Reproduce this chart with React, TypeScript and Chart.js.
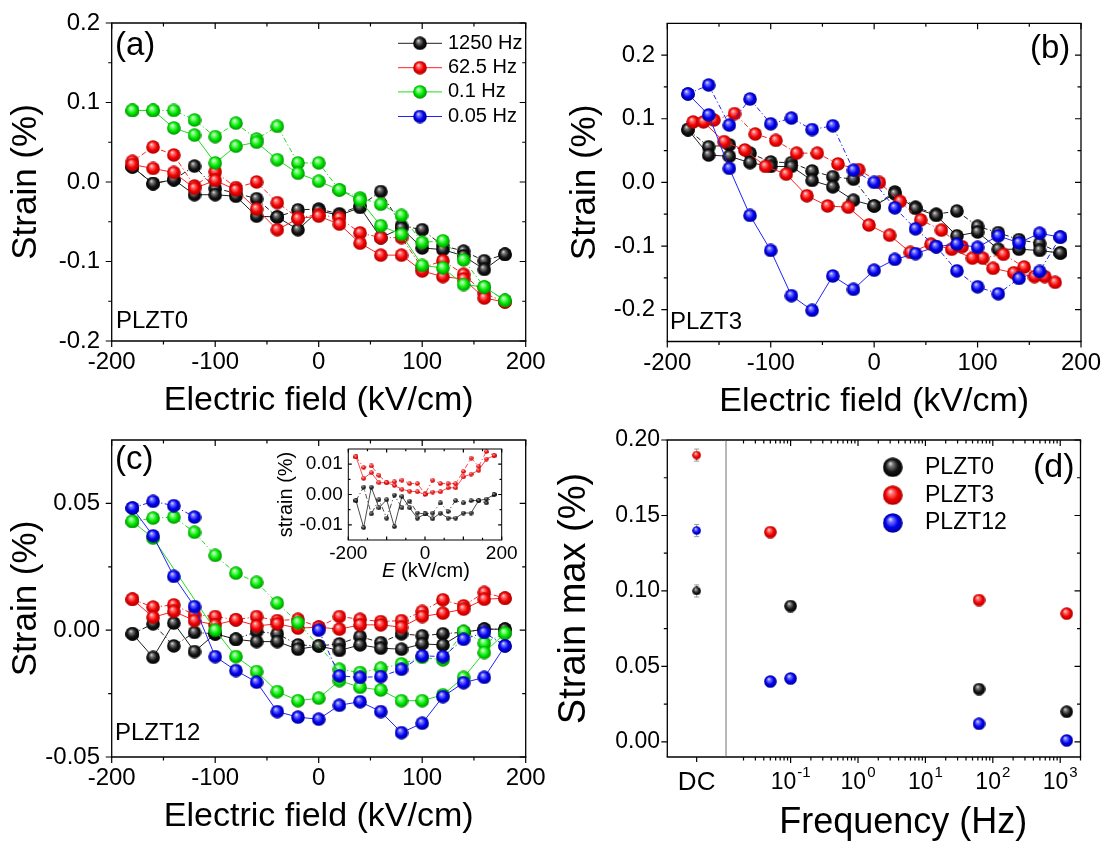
import React, { useEffect, useRef } from 'react';
import { Chart, registerables } from 'chart.js';

Chart.register(...registerables);

const FONT = '"Liberation Sans", Arial, Helvetica, sans-serif';

/* ================= data ================= */
// electric field grid (kV/cm)
const fieldKV = [-180, -160, -140, -120, -100, -80, -60, -40, -20, 0, 20, 40, 60, 80, 100, 120, 140, 160, 180];

// (a) PLZT0 — strain (%) on the two branches of each loop, listed by field
const a1250Up = [0.019, -0.002, 0.003, 0.020, -0.008, -0.014, -0.021, -0.044, -0.035, -0.034, -0.040, -0.030, -0.012, -0.055, -0.060, -0.080, -0.087, -0.099, -0.091];
const a1250Down = [0.019, -0.002, 0.003, -0.016, -0.016, -0.018, -0.043, -0.044, -0.060, -0.036, -0.042, -0.032, -0.070, -0.058, -0.083, -0.085, -0.093, -0.110, -0.091];
const a625Up = [0.026, 0.044, 0.034, -0.005, 0.013, -0.007, 0.000, -0.026, -0.045, -0.041, -0.045, -0.064, -0.070, -0.070, -0.108, -0.099, -0.116, -0.140, -0.151];
const a625Down = [0.022, 0.017, 0.012, -0.008, 0.002, -0.010, -0.034, -0.060, -0.046, -0.043, -0.053, -0.077, -0.092, -0.092, -0.112, -0.119, -0.122, -0.146, -0.151];
const a01Up = [0.090, 0.090, 0.090, 0.078, 0.057, 0.074, 0.054, 0.070, 0.024, 0.024, -0.010, -0.020, -0.028, -0.042, -0.076, -0.074, -0.098, -0.132, -0.149];
const a01Down = [0.090, 0.090, 0.068, 0.059, 0.024, 0.045, 0.050, 0.028, 0.011, 0.001, -0.010, -0.023, -0.055, -0.066, -0.105, -0.108, -0.129, -0.132, -0.149];

// (b) PLZT3
const b1250Up = [0.083, 0.056, 0.059, 0.046, 0.032, 0.031, 0.018, 0.009, 0.005, -0.037, -0.015, -0.039, -0.050, -0.045, -0.069, -0.079, -0.090, -0.096, -0.111];
const b1250Down = [0.083, 0.043, 0.041, 0.031, 0.025, 0.025, 0.003, -0.007, -0.028, -0.037, -0.018, -0.041, -0.052, -0.084, -0.078, -0.105, -0.105, -0.107, -0.111];
const b625UpField = [-175, -155, -135, -115, -95, -75, -55, -35, -15, 5, 25, 45, 65, 85, 105, 125, 145, 165];
const b625Up = [0.095, 0.098, 0.108, 0.076, 0.066, 0.046, 0.046, 0.029, 0.020, 0.000, -0.030, -0.059, -0.075, -0.101, -0.119, -0.113, -0.133, -0.148];
const b625DownField = [-165, -145, -125, -105, -85, -65, -45, -25, -5, 15, 35, 55, 75, 95, 115, 135, 155, 175];
const b625Down = [0.095, 0.064, 0.051, 0.025, 0.013, -0.021, -0.037, -0.039, -0.067, -0.083, -0.110, -0.097, -0.105, -0.119, -0.135, -0.142, -0.148, -0.157];
const b005Up = [0.139, 0.153, 0.090, 0.131, 0.092, 0.101, 0.083, 0.089, 0.019, 0.000, -0.040, -0.073, -0.101, -0.139, -0.164, -0.175, -0.151, -0.140, -0.086];
const b005Down = [0.139, 0.106, 0.022, -0.052, -0.107, -0.178, -0.201, -0.147, -0.168, -0.138, -0.121, -0.112, -0.101, -0.097, -0.102, -0.084, -0.095, -0.080, -0.086];

// (c) PLZT12
const c1250Up = [-0.0014, 0.0025, -0.0062, -0.0009, -0.0014, -0.0036, -0.0005, -0.0014, -0.0058, -0.0062, -0.0054, -0.0025, -0.0049, -0.0014, -0.0022, -0.0014, -0.0008, 0.0004, 0.0004];
const c1250Down = [-0.0014, -0.0107, 0.0028, -0.0084, -0.0014, -0.0036, -0.0045, -0.0045, -0.0075, -0.0062, -0.0080, -0.0058, -0.0071, -0.0075, -0.0054, -0.0058, -0.0008, 0.0004, 0.0004];
const c625Up = [0.0122, 0.0091, 0.0100, 0.0061, 0.0054, 0.0041, 0.0054, 0.0038, 0.0043, 0.0012, 0.0054, 0.0043, 0.0034, 0.0038, 0.0074, 0.0120, 0.0096, 0.0149, 0.0126];
const c625Down = [0.0122, 0.0051, 0.0074, 0.0038, 0.0021, 0.0041, 0.0017, 0.0025, 0.0008, 0.0012, 0.0004, 0.0021, 0.0021, 0.0012, 0.0054, 0.0067, 0.0083, 0.0122, 0.0126];
const c01Up = [0.0429, 0.0442, 0.0446, 0.0386, 0.0295, 0.0225, 0.0189, 0.0107, 0.0030, null, -0.0154, -0.0167, -0.0150, -0.0133, -0.0107, -0.0117, -0.0005, -0.0051, -0.0012];
const c01Down = [0.0429, 0.0363, null, null, 0.0000, -0.0104, -0.0163, -0.0242, -0.0278, -0.0268, -0.0199, -0.0225, -0.0236, -0.0278, -0.0278, -0.0255, -0.0186, -0.0088, -0.0012];
const c005Up = [0.0482, 0.0508, 0.0491, 0.0446, null, null, null, null, null, 0.0000, -0.0180, -0.0186, -0.0183, -0.0154, -0.0101, -0.0104, -0.0036, -0.0009, -0.0062];
const c005Down = [0.0482, 0.0372, 0.0212, 0.0093, -0.0104, -0.0159, -0.0205, -0.0321, -0.0343, -0.0351, -0.0296, -0.0282, -0.0321, -0.0404, -0.0367, -0.0262, -0.0207, -0.0186, -0.0062];

// (c) inset
const in1250Up = [-0.0020, 0.0024, -0.0064, -0.0017, -0.0078, -0.0002, -0.0044, -0.0022, -0.0061, -0.0064, -0.0061, -0.0028, -0.0056, -0.0020, -0.0028, -0.0020, -0.0020, -0.0028, 0.0000];
const in1250Down = [-0.0020, -0.0109, 0.0024, -0.0044, -0.0017, -0.0106, -0.0006, -0.0044, -0.0078, -0.0064, -0.0080, -0.0061, -0.0078, -0.0078, -0.0061, -0.0061, -0.0020, -0.0015, 0.0000];
const in625Up = [0.0124, 0.0089, 0.0094, 0.0063, 0.0039, 0.0042, 0.0047, 0.0036, 0.0036, 0.0002, 0.0047, 0.0036, 0.0036, 0.0036, 0.0076, 0.0120, 0.0093, 0.0142, 0.0128];
const in625Down = [0.0124, 0.0053, 0.0072, 0.0039, 0.0039, 0.0030, 0.0017, 0.0011, 0.0009, 0.0000, 0.0008, 0.0009, 0.0022, 0.0022, 0.0058, 0.0067, 0.0080, 0.0117, 0.0128];

// (d) maximum strain vs frequency
const freqHz = [0.05, 0.1, 62.5, 1250];
const dPLZT0 = [null, 0.090, 0.035, 0.020];
const dPLZT3 = [0.139, null, 0.094, 0.085];
const dPLZT12 = [0.040, 0.042, 0.012, 0.001];
const dcLabels = ['DC'];
const dcPLZT0 = [0.100];
const dcPLZT3 = [0.190];
const dcPLZT12 = [0.140];
const dcErr = 0.004;
const acErr = 0.003;

// legends / names
const freqNames = ['1250 Hz', '62.5 Hz', '0.1 Hz', '0.05 Hz'];
const sampleNames = ['PLZT0', 'PLZT3', 'PLZT12'];

// ticks
const fieldTicks = [-200, -100, 0, 100, 200];
const fieldMinor = [-150, -50, 50, 150];
const insetFieldLabels = [-200, 0, 200];
const insetFieldMajor = [-200, -100, 0, 100, 200];
const strainTicksAB = [-0.2, -0.1, 0, 0.1, 0.2];
const strainMinorAB = [-0.15, -0.05, 0.05, 0.15];
const strainTicksC = [-0.05, 0, 0.05];
const strainMinorC = [-0.025, 0.025];
const insetTicks = [-0.01, 0, 0.01];
const insetMinor = [-0.005, 0.005];
const strainTicksD = [0, 0.05, 0.1, 0.15, 0.2];
const strainMinorD = [0.025, 0.075, 0.125, 0.175];
const logMajor = [0.1, 1, 10, 100, 1000];

/* ================= layout ================= */
type Box = { left: number; top: number; w: number; h: number; area: { l: number; t: number; r: number; b: number } };
const BOX_A: Box = { left: 0, top: 0, w: 560, h: 425, area: { l: 111.7, t: 23, r: 525.7, b: 341 } };
const BOX_B: Box = { left: 550, top: 0, w: 553, h: 425, area: { l: 667.3, t: 23.3, r: 1081, b: 341.5 } };
const BOX_C: Box = { left: 0, top: 420, w: 560, h: 426, area: { l: 111.7, t: 440, r: 525.7, b: 757 } };
const BOX_IN: Box = { left: 270, top: 430, w: 255, h: 160, area: { l: 348.3, t: 449, r: 501.7, b: 540 } };
const BOX_DC: Box = { left: 550, top: 420, w: 176, h: 426, area: { l: 667.3, t: 440, r: 726, b: 757 } };
const BOX_LOG: Box = { left: 726, top: 420, w: 377, h: 426, area: { l: 726, t: 440, r: 1080.5, b: 757 } };
const BOXES = [BOX_A, BOX_B, BOX_C, BOX_IN, BOX_DC, BOX_LOG];

const LINE: Record<string, string> = { black: '#1e1e1e', red: '#ff2020', green: '#20dd20', blue: '#2020ff' };
const SPH: Record<string, string[]> = {
  black: ['#f4f4f4', '#808080', '#151515', '#000000'],
  red: ['#fff2f2', '#ff7a7a', '#f20000', '#a80000'],
  green: ['#f2fff2', '#8aff8a', '#00e600', '#008c00'],
  blue: ['#f2f2ff', '#7a7aff', '#0000f0', '#000090'],
};

function sphere(key: string, d: number): HTMLCanvasElement {
  const c = document.createElement('canvas');
  c.width = d;
  c.height = d;
  const g = c.getContext('2d')!;
  const r = d / 2;
  const s = SPH[key];
  const grad = g.createRadialGradient(d * 0.37, d * 0.3, 0, r, r, r);
  grad.addColorStop(0, s[0]);
  grad.addColorStop(0.22, s[1]);
  grad.addColorStop(0.62, s[2]);
  grad.addColorStop(1, s[3]);
  g.fillStyle = grad;
  g.beginPath();
  g.arc(r, r, r - 0.2, 0, Math.PI * 2);
  g.fill();
  return c;
}

function fitter(box: Box) {
  const yW = box.area.l - box.left;
  const xH = box.top + box.h - box.area.b;
  const zero = (s: any) => {
    s.paddingTop = 0;
    s.paddingBottom = 0;
    s.paddingLeft = 0;
    s.paddingRight = 0;
  };
  return {
    padding: { left: 0, top: box.area.t - box.top, right: box.left + box.w - box.area.r, bottom: 0 },
    fitY: (s: any) => {
      s.width = yW;
      zero(s);
    },
    fitX: (s: any) => {
      s.height = xH;
      zero(s);
    },
  };
}

function linScale(min: number, max: number, ticks: number[] | null, fmt: (v: number) => string, size: number, pad: number, title?: { text: string; size: number; pad: number; side: 'x' | 'y' }) {
  return {
    type: 'linear',
    min,
    max,
    display: true,
    afterBuildTicks: (s: any) => {
      s.ticks = (ticks || []).map((v) => ({ value: v }));
    },
    ticks: { display: !!ticks, callback: (v: any) => fmt(Number(v)), font: { family: FONT, size, lineHeight: 1.2 }, color: '#000', padding: pad, autoSkip: false, maxRotation: 0, minRotation: 0 },
    grid: { display: false, drawTicks: false },
    border: { display: false },
    title: title
      ? { display: true, text: title.text, color: '#000', font: { family: FONT, size: title.size, lineHeight: 1.2 }, padding: title.side === 'y' ? { top: title.pad, bottom: 0 } : { top: 0, bottom: title.pad } }
      : { display: false },
  };
}

type TickSet = { axis: 'x' | 'y'; side: 'left' | 'right' | 'top' | 'bottom'; out: boolean; len: number; vals: number[] };

function framePlugin(sides: string[], ticks: TickSet[], lw = 1.3, sepColor?: string, sepSide?: string) {
  return {
    id: 'frame',
    afterDraw(chart: any) {
      const { ctx, chartArea: a, scales } = chart;
      ctx.save();
      ctx.lineWidth = lw;
      for (const s of sides) {
        ctx.strokeStyle = s === sepSide && sepColor ? sepColor : '#000';
        ctx.lineWidth = s === sepSide && sepColor ? 1 : lw;
        ctx.beginPath();
        if (s === 'left') { ctx.moveTo(a.left, a.top); ctx.lineTo(a.left, a.bottom); }
        if (s === 'right') { ctx.moveTo(a.right, a.top); ctx.lineTo(a.right, a.bottom); }
        if (s === 'top') { ctx.moveTo(a.left - lw / 2, a.top); ctx.lineTo(a.right + lw / 2, a.top); }
        if (s === 'bottom') { ctx.moveTo(a.left - lw / 2, a.bottom); ctx.lineTo(a.right + lw / 2, a.bottom); }
        ctx.stroke();
      }
      ctx.strokeStyle = '#000';
      ctx.lineWidth = 1.2;
      ctx.beginPath();
      for (const t of ticks) {
        const sc = scales[t.axis];
        for (const v of t.vals) {
          const p = sc.getPixelForValue(v);
          if (t.axis === 'x') {
            if (p < a.left - 0.6 || p > a.right + 0.6) continue;
            const y0 = t.side === 'bottom' ? a.bottom : a.top;
            const dir = (t.side === 'bottom') === t.out ? 1 : -1;
            ctx.moveTo(p, y0);
            ctx.lineTo(p, y0 + dir * t.len);
          } else {
            if (p < a.top - 0.6 || p > a.bottom + 0.6) continue;
            const x0 = t.side === 'left' ? a.left : a.right;
            const dir = (t.side === 'left') === t.out ? -1 : 1;
            ctx.moveTo(x0, p);
            ctx.lineTo(x0 + dir * t.len, p);
          }
        }
      }
      ctx.stroke();
      ctx.restore();
    },
  };
}

function stdTicks(xMaj: number[], xMin: number[], yMaj: number[], yMin: number[], inset = false): TickSet[] {
  const M = inset ? 3.5 : 6;
  const m = inset ? 2.2 : 3.5;
  const out = !inset;
  return [
    { axis: 'x', side: 'bottom', out, len: M, vals: xMaj },
    { axis: 'x', side: 'bottom', out, len: m, vals: xMin },
    { axis: 'x', side: 'top', out: false, len: M, vals: xMaj },
    { axis: 'x', side: 'top', out: false, len: m, vals: xMin },
    { axis: 'y', side: 'left', out, len: M, vals: yMaj },
    { axis: 'y', side: 'left', out, len: m, vals: yMin },
    { axis: 'y', side: 'right', out: false, len: M, vals: yMaj },
    { axis: 'y', side: 'right', out: false, len: m, vals: yMin },
  ];
}

type TextItem = { parts: { text: string; italic?: boolean }[]; x: number; y: number; size: number; align?: 'left' | 'center' };
function textPlugin(box: Box, items: TextItem[]) {
  return {
    id: 'texts',
    afterDraw(chart: any) {
      const ctx = chart.ctx;
      ctx.save();
      ctx.fillStyle = '#000';
      ctx.textBaseline = 'middle';
      ctx.textAlign = 'left';
      for (const it of items) {
        const widths = it.parts.map((p) => {
          ctx.font = `${p.italic ? 'italic ' : ''}${it.size}px ${FONT}`;
          return ctx.measureText(p.text).width;
        });
        const total = widths.reduce((s, w) => s + w, 0);
        let x = (it.align === 'center' ? it.x - total / 2 : it.x) - box.left;
        it.parts.forEach((p, i) => {
          ctx.font = `${p.italic ? 'italic ' : ''}${it.size}px ${FONT}`;
          ctx.fillText(p.text, x, it.y - box.top);
          x += widths[i];
        });
      }
      ctx.restore();
    },
  };
}

function legendPlugin(box: Box, entries: { label: string; color: string; img: HTMLCanvasElement }[], rows: number[], markerX: number, textX: number, size: number, line?: [number, number]) {
  return {
    id: 'customLegend',
    afterDraw(chart: any) {
      const ctx = chart.ctx;
      ctx.save();
      entries.forEach((e, i) => {
        const y = rows[i] - box.top;
        if (line) {
          ctx.strokeStyle = LINE[e.color];
          ctx.lineWidth = 1;
          ctx.beginPath();
          ctx.moveTo(line[0] - box.left, y);
          ctx.lineTo(line[1] - box.left, y);
          ctx.stroke();
        }
        ctx.drawImage(e.img, markerX - box.left - e.img.width / 2, y - e.img.height / 2);
        ctx.font = `${size}px ${FONT}`;
        ctx.fillStyle = '#000';
        ctx.textAlign = 'left';
        ctx.textBaseline = 'middle';
        ctx.fillText(e.label, textX - box.left, y);
      });
      ctx.restore();
    },
  };
}

function errorBarPlugin(errs: number[]) {
  return {
    id: 'errorBars',
    beforeDatasetsDraw(chart: any) {
      const ctx = chart.ctx;
      const ys = chart.scales.y;
      ctx.save();
      ctx.strokeStyle = '#9a9a9a';
      ctx.lineWidth = 1;
      chart.data.datasets.forEach((ds: any, i: number) => {
        const meta = chart.getDatasetMeta(i);
        meta.data.forEach((pt: any, j: number) => {
          const raw = ds.data[j];
          const v = typeof raw === 'number' ? raw : raw && raw.y;
          if (v === null || v === undefined || pt.skip) return;
          const y0 = ys.getPixelForValue(v - errs[i]);
          const y1 = ys.getPixelForValue(v + errs[i]);
          ctx.beginPath();
          ctx.moveTo(pt.x, y0);
          ctx.lineTo(pt.x, y1);
          ctx.moveTo(pt.x - 2.5, y0);
          ctx.lineTo(pt.x + 2.5, y0);
          ctx.moveTo(pt.x - 2.5, y1);
          ctx.lineTo(pt.x + 2.5, y1);
          ctx.stroke();
        });
      });
      ctx.restore();
    },
  };
}

function logLabelPlugin(box: Box, values: number[], yPage: number) {
  return {
    id: 'logLabels',
    afterDraw(chart: any) {
      const ctx = chart.ctx;
      const sc = chart.scales.x;
      ctx.save();
      ctx.fillStyle = '#000';
      ctx.textBaseline = 'middle';
      ctx.textAlign = 'left';
      for (const v of values) {
        const px = sc.getPixelForValue(v);
        const e = String(Math.round(Math.log10(v)));
        ctx.font = `23px ${FONT}`;
        const wb = ctx.measureText('10').width;
        ctx.font = `15px ${FONT}`;
        const we = ctx.measureText(e).width;
        const x0 = px - (wb + we + 1) / 2;
        ctx.font = `23px ${FONT}`;
        ctx.fillText('10', x0, yPage - box.top);
        ctx.font = `15px ${FONT}`;
        ctx.fillText(e, x0 + wb + 1, yPage - box.top - 10);
      }
      ctx.restore();
    },
  };
}

function loopDS(label: string, color: string, xUp: number[], yUp: (number | null)[], xDown: number[], yDown: (number | null)[], img: HTMLCanvasElement, order: number, spanGaps = true, lw = 1) {
  const up = xUp.map((x, i) => ({ x, y: yUp[i] }));
  const down = xDown.map((x, i) => ({ x, y: yDown[i] })).reverse();
  const n = up.length;
  return {
    label,
    data: [...up, ...down],
    order,
    spanGaps,
    borderColor: LINE[color],
    borderWidth: lw,
    pointStyle: img,
    pointRadius: img.width / 2,
    pointBorderWidth: 0,
    tension: 0,
    fill: false,
    segment: { borderDash: (ctx: any) => (ctx.p0DataIndex < n - 1 ? [5, 2.5, 1.2, 2.5] : undefined) },
  };
}

function baseConfig(box: Box, x: any, y: any, data: any, plugins: any[]) {
  const f = fitter(box);
  return {
    type: 'line',
    data,
    options: {
      animation: false,
      responsive: false,
      devicePixelRatio: 1,
      events: [],
      layout: { padding: f.padding, autoPadding: false },
      plugins: { legend: { display: false }, tooltip: { enabled: false } },
      scales: { x: { ...x, afterFit: f.fitX }, y: { ...y, afterFit: f.fitY } },
    },
    plugins,
  } as any;
}

const f1 = (v: number) => v.toFixed(1);
const f2 = (v: number) => v.toFixed(2);
const fi = (v: number) => String(Math.round(v));

export default function App() {
  const refs = useRef<(HTMLCanvasElement | null)[]>([]);

  useEffect(() => {
    document.body.style.margin = '0';
    const s14 = { black: sphere('black', 14), red: sphere('red', 14), green: sphere('green', 14), blue: sphere('blue', 14) };
    const s5 = { black: sphere('black', 5), red: sphere('red', 5) };
    const s13 = { black: sphere('black', 13), red: sphere('red', 13), blue: sphere('blue', 13) };
    const s9 = { black: sphere('black', 9), red: sphere('red', 9), blue: sphere('blue', 9) };
    const s20 = { black: sphere('black', 20), red: sphere('red', 20), blue: sphere('blue', 20) };

    const fieldTitle = { text: 'Electric field (kV/cm)', size: 34, side: 'x' as const };
    const strainTitle = { text: 'Strain (%)', size: 35, side: 'y' as const };
    const charts: Chart[] = [];

    // ---------- (a) ----------
    charts.push(
      new Chart(
        refs.current[0]!,
        baseConfig(
          BOX_A,
          linScale(-200, 200, fieldTicks, fi, 24, 7, { ...fieldTitle, pad: 3.6 }),
          linScale(-0.2, 0.2, strainTicksAB, f1, 24, 11.7, { ...strainTitle, pad: 5.7 }),
          {
            datasets: [
              loopDS(freqNames[0], 'black', fieldKV, a1250Up, fieldKV, a1250Down, s14.black, 4),
              loopDS(freqNames[1], 'red', fieldKV, a625Up, fieldKV, a625Down, s14.red, 3),
              loopDS(freqNames[2], 'green', fieldKV, a01Up, fieldKV, a01Down, s14.green, 2),
            ],
          },
          [
            framePlugin(['left', 'right', 'top', 'bottom'], stdTicks(fieldTicks, fieldMinor, strainTicksAB, strainMinorAB)),
            textPlugin(BOX_A, [
              { parts: [{ text: '(a)' }], x: 115, y: 46, size: 33 },
              { parts: [{ text: sampleNames[0] }], x: 116, y: 321.5, size: 24 },
            ]),
            legendPlugin(
              BOX_A,
              [
                { label: freqNames[0], color: 'black', img: s14.black },
                { label: freqNames[1], color: 'red', img: s14.red },
                { label: freqNames[2], color: 'green', img: s14.green },
                { label: freqNames[3], color: 'blue', img: s14.blue },
              ],
              [43.3, 67.7, 91.9, 116.5],
              420,
              448,
              20,
              [398, 442]
            ),
          ]
        )
      )
    );

    // ---------- (b) ----------
    charts.push(
      new Chart(
        refs.current[1]!,
        baseConfig(
          BOX_B,
          linScale(-200, 200, fieldTicks, fi, 24, 7, { ...fieldTitle, pad: 3.1 }),
          linScale(-0.25, 0.25, strainTicksAB, f1, 24, 12.3, { ...strainTitle, pad: 14 }),
          {
            datasets: [
              loopDS(freqNames[0], 'black', fieldKV, b1250Up, fieldKV, b1250Down, s14.black, 4),
              loopDS(freqNames[1], 'red', b625UpField, b625Up, b625DownField, b625Down, s14.red, 3),
              loopDS(freqNames[3], 'blue', fieldKV, b005Up, fieldKV, b005Down, s14.blue, 1),
            ],
          },
          [
            framePlugin(['left', 'right', 'top', 'bottom'], stdTicks(fieldTicks, fieldMinor, strainTicksAB, strainMinorAB)),
            textPlugin(BOX_B, [
              { parts: [{ text: '(b)' }], x: 1030, y: 49, size: 33 },
              { parts: [{ text: sampleNames[1] }], x: 670, y: 322, size: 24 },
            ]),
          ]
        )
      )
    );

    // ---------- (c) ----------
    charts.push(
      new Chart(
        refs.current[2]!,
        baseConfig(
          BOX_C,
          linScale(-200, 200, fieldTicks, fi, 24, 7, { ...fieldTitle, pad: 8.6 }),
          linScale(-0.05, 0.075, strainTicksC, f2, 24, 11.7, { ...strainTitle, pad: 5.7 }),
          {
            datasets: [
              loopDS(freqNames[0], 'black', fieldKV, c1250Up, fieldKV, c1250Down, s14.black, 4),
              loopDS(freqNames[1], 'red', fieldKV, c625Up, fieldKV, c625Down, s14.red, 3),
              loopDS(freqNames[2], 'green', fieldKV, c01Up, fieldKV, c01Down, s14.green, 2, true),
              loopDS(freqNames[3], 'blue', fieldKV, c005Up, fieldKV, c005Down, s14.blue, 1, false),
            ],
          },
          [
            framePlugin(['left', 'right', 'top', 'bottom'], stdTicks(fieldTicks, fieldMinor, strainTicksC, strainMinorC)),
            textPlugin(BOX_C, [
              { parts: [{ text: '(c)' }], x: 115, y: 460, size: 33 },
              { parts: [{ text: sampleNames[2] }], x: 115, y: 733, size: 24 },
            ]),
          ]
        )
      )
    );

    // ---------- inset ----------
    charts.push(
      new Chart(
        refs.current[3]!,
        baseConfig(
          BOX_IN,
          linScale(-200, 200, insetFieldLabels, fi, 19, 1.9),
          linScale(-0.015, 0.015, insetTicks, f2, 19, 5.6, { text: 'strain (%)', size: 20, side: 'y', pad: 4.7 }),
          {
            datasets: [
              loopDS(freqNames[0], 'black', fieldKV, in1250Up, fieldKV, in1250Down, s5.black, 2, true, 0.8),
              loopDS(freqNames[1], 'red', fieldKV, in625Up, fieldKV, in625Down, s5.red, 1, true, 0.8),
            ],
          },
          [
            framePlugin(['left', 'right', 'top', 'bottom'], stdTicks(insetFieldMajor, fieldMinor, insetTicks, insetMinor, true), 1),
            textPlugin(BOX_IN, [{ parts: [{ text: 'E', italic: true }, { text: ' (kV/cm)' }], x: 426, y: 571.7, size: 20, align: 'center' }]),
          ]
        )
      )
    );

    // ---------- (d) DC part ----------
    const dcScaleX = {
      type: 'category',
      labels: dcLabels,
      offset: true,
      ticks: { font: { family: FONT, size: 26, lineHeight: 1.2 }, color: '#000', padding: 10 },
      grid: { display: false, drawTicks: false },
      border: { display: false },
      title: { display: false },
    };
    charts.push(
      new Chart(
        refs.current[4]!,
        baseConfig(
          BOX_DC,
          dcScaleX,
          linScale(-0.01, 0.2, strainTicksD, f2, 23, 7.3, { text: 'Strain max (%)', size: 38, side: 'y', pad: 2.2 }),
          {
            labels: dcLabels,
            datasets: [
              { label: sampleNames[0], data: dcPLZT0, showLine: false, pointStyle: s9.black, pointRadius: 4.5, order: 3 },
              { label: sampleNames[1], data: dcPLZT3, showLine: false, pointStyle: s9.red, pointRadius: 4.5, order: 2 },
              { label: sampleNames[2], data: dcPLZT12, showLine: false, pointStyle: s9.blue, pointRadius: 4.5, order: 1 },
            ],
          },
          [
            errorBarPlugin([dcErr, dcErr, dcErr]),
            framePlugin(
              ['left', 'top', 'bottom', 'right'],
              [
                { axis: 'y', side: 'left', out: true, len: 6, vals: strainTicksD },
                { axis: 'y', side: 'left', out: true, len: 3.5, vals: strainMinorD },
                { axis: 'x', side: 'bottom', out: true, len: 5, vals: [0] },
              ],
              1.3,
              '#707070',
              'right'
            ),
          ]
        )
      )
    );

    // ---------- (d) frequency part ----------
    const logMinor: number[] = [];
    for (const dec of [0.01, 0.1, 1, 10, 100, 1000]) for (let k = 2; k <= 9; k++) logMinor.push(k * dec);
    const pts = (vals: (number | null)[]) => freqHz.map((f, i) => ({ x: f, y: vals[i] }));
    charts.push(
      new Chart(
        refs.current[5]!,
        baseConfig(
          BOX_LOG,
          {
            type: 'logarithmic',
            min: 0.011,
            max: 2000,
            ticks: { display: false },
            grid: { display: false, drawTicks: false },
            border: { display: false },
            title: { display: true, text: 'Frequency (Hz)', color: '#000', font: { family: FONT, size: 36, lineHeight: 1.2 }, padding: { top: 0, bottom: 0.9 } },
          },
          { type: 'linear', min: -0.01, max: 0.2, display: false },
          {
            datasets: [
              { label: sampleNames[0], data: pts(dPLZT0), showLine: false, pointStyle: s13.black, pointRadius: 6.5, order: 3 },
              { label: sampleNames[1], data: pts(dPLZT3), showLine: false, pointStyle: s13.red, pointRadius: 6.5, order: 2 },
              { label: sampleNames[2], data: pts(dPLZT12), showLine: false, pointStyle: s13.blue, pointRadius: 6.5, order: 1 },
            ],
          },
          [
            errorBarPlugin([acErr, acErr, acErr]),
            framePlugin(
              ['left', 'top', 'bottom', 'right'],
              [
                { axis: 'x', side: 'bottom', out: true, len: 6, vals: logMajor },
                { axis: 'x', side: 'bottom', out: true, len: 3.5, vals: logMinor },
                { axis: 'x', side: 'top', out: false, len: 6, vals: logMajor },
                { axis: 'x', side: 'top', out: false, len: 3.5, vals: logMinor },
                { axis: 'y', side: 'right', out: false, len: 6, vals: strainTicksD },
                { axis: 'y', side: 'right', out: false, len: 3.5, vals: strainMinorD },
              ],
              1.3,
              '#707070',
              'left'
            ),
            logLabelPlugin(BOX_LOG, logMajor, 783),
            textPlugin(BOX_LOG, [{ parts: [{ text: '(d)' }], x: 1033, y: 468, size: 34 }]),
            legendPlugin(
              BOX_LOG,
              [
                { label: sampleNames[0], color: 'black', img: s20.black },
                { label: sampleNames[1], color: 'red', img: s20.red },
                { label: sampleNames[2], color: 'blue', img: s20.blue },
              ],
              [467.3, 495.2, 523],
              892.7,
              925,
              23
            ),
          ]
        )
      )
    );

    return () => charts.forEach((c) => c.destroy());
  }, []);

  return (
    <div style={{ position: 'relative', width: 1103, height: 846, background: '#ffffff', overflow: 'hidden' }}>
      {BOXES.map((b, i) => (
        <canvas
          key={i}
          ref={(el) => {
            refs.current[i] = el;
          }}
          width={b.w}
          height={b.h}
          style={{ position: 'absolute', left: b.left, top: b.top, width: b.w, height: b.h }}
        />
      ))}
    </div>
  );
}
